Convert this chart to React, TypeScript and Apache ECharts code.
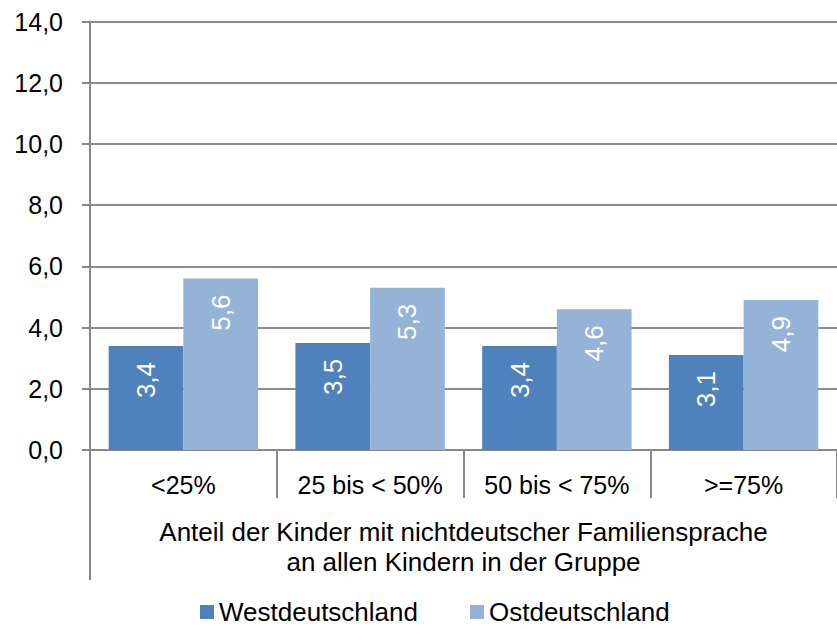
import React, { useEffect, useRef } from "react";
import * as echarts from "echarts";

const categories = ["<25%", "25 bis < 50%", "50 bis < 75%", ">=75%"];
const westValues = [3.4, 3.5, 3.4, 3.1];
const ostValues = [5.6, 5.3, 4.6, 4.9];
const seriesNames = ["Westdeutschland", "Ostdeutschland"];
const axisTitle = "Anteil der Kinder mit nichtdeutscher Familiensprache\nan allen Kindern in der Gruppe";

const FONT = '"Liberation Sans", Arial, sans-serif';
const fmt = (v: number) => v.toFixed(1).replace(".", ",");

export default function App() {
  const ref = useRef<HTMLDivElement>(null);
  useEffect(() => {
    if (!ref.current) return;
    const chart = echarts.init(ref.current, undefined, { renderer: "svg" });
    const label = {
      show: true,
      position: "insideTop",
      rotate: 90,
      align: "right",
      verticalAlign: "middle",
      distance: 16,
      color: "#ffffff",
      fontSize: 26,
      fontFamily: FONT,
      formatter: (p: any) => fmt(p.value),
    };
    chart.setOption({
      animation: false,
      textStyle: { fontFamily: FONT },
      grid: { left: 90, top: 21.5, width: 750, height: 428.5, containLabel: false },
      legend: {
        left: 195,
        top: 594,
        itemWidth: 14,
        itemHeight: 14,
        itemGap: 52,
        icon: "rect",
        textStyle: { fontSize: 26, color: "#000", fontFamily: FONT, lineHeight: 26 },
        data: seriesNames,
      },
      xAxis: {
        type: "category",
        data: categories,
        axisLine: { lineStyle: { color: "#888888", width: 2 } },
        axisTick: { show: true, interval: 0, length: 48, lineStyle: { color: "#888888", width: 2 } },
        axisLabel: { interval: 0, fontSize: 25, color: "#000", margin: 22, fontFamily: FONT },
        name: axisTitle,
        nameLocation: "middle",
        nameGap: 67,
        nameTextStyle: { fontSize: 26, color: "#000", lineHeight: 30, fontFamily: FONT, verticalAlign: "top" },
      },
      yAxis: {
        type: "value",
        min: 0,
        max: 14,
        interval: 2,
        axisLine: { show: true, lineStyle: { color: "#888888", width: 2 } },
        axisTick: { show: true, length: 8, lineStyle: { color: "#888888", width: 2 } },
        splitLine: { lineStyle: { color: "#8c8c8c", width: 2 } },
        axisLabel: { fontSize: 25, color: "#000", margin: 27, fontFamily: FONT, formatter: (v: number) => fmt(v) },
      },
      graphic: [
        {
          type: "line",
          shape: { x1: 90, y1: 450, x2: 90, y2: 580 },
          style: { stroke: "#888888", lineWidth: 2 },
        },
      ],
      series: [
        {
          name: seriesNames[0],
          type: "bar",
          data: westValues,
          barGap: "0%",
          barCategoryGap: "20%",
          itemStyle: { color: "#4F81BD" },
          label,
        },
        {
          name: seriesNames[1],
          type: "bar",
          data: ostValues,
          barGap: "0%",
          barCategoryGap: "20%",
          itemStyle: { color: "#95B3D7" },
          label,
        },
      ],
    });
    return () => chart.dispose();
  }, []);
  return <div ref={ref} style={{ position: "fixed", left: 0, top: 0, width: 837, height: 629, background: "#fff" }} />;
}
